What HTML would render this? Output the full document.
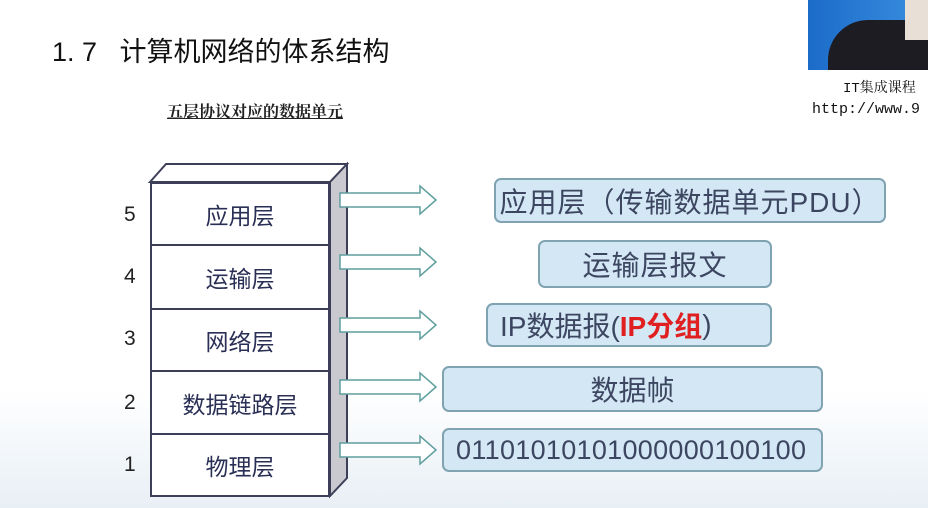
<!DOCTYPE html>
<html><head><meta charset="utf-8"><style>
body{margin:0;width:928px;height:508px;overflow:hidden;position:relative;background:linear-gradient(#fff 0,#fff 390px,#e8eff5 508px);font-family:"Liberation Sans","Noto Sans CJK SC",sans-serif;}
.a{position:absolute;white-space:nowrap}
.box{position:absolute;background:#d3e7f5;border:2px solid #7fa3b1;border-radius:7px;box-sizing:border-box;color:#3d4660;font-size:28px;display:flex;align-items:center;justify-content:center;}
.num{position:absolute;left:124px;font-size:21px;color:#222;}
.lay{position:absolute;left:150px;width:180px;box-sizing:border-box;border:2px solid #3d3f58;background:#fff;color:#2a2f55;font-size:23px;display:flex;align-items:center;justify-content:center;}
</style></head><body>
<div class="a" style="left:52px;top:30px;font-size:27px;color:#111">1. 7&nbsp;&nbsp; 计算机网络的体系结构</div>
<div class="a" style="left:167px;top:99px;font-size:16px;font-weight:bold;color:#222;text-decoration:underline;font-family:'Noto Serif CJK SC',serif">五层协议对应的数据单元</div>
<div class="a" style="left:808px;top:0;width:120px;height:70px;background:linear-gradient(90deg,#1b6bc8,#3a8fe0)"></div>
<div class="a" style="left:828px;top:20px;width:100px;height:50px;background:#1c1c22;border-radius:40px 0 0 0"></div>
<div class="a" style="left:905px;top:0;width:23px;height:40px;background:#e8dfd6"></div>
<div class="a" style="left:843px;top:77px;font-size:14px;color:#111;font-family:'Liberation Mono','Noto Serif CJK SC',monospace">IT集成课程</div>
<div class="a" style="left:812px;top:101px;font-size:15px;color:#111;font-family:'Liberation Mono',monospace">http://www.9</div>

<svg class="a" style="left:0;top:0" width="928" height="508">
<polygon points="150,182 166,164 347,164 330,182" fill="#fff" stroke="#3d3f58" stroke-width="2"/>
<polygon points="330,182 347,164 347,478 330,496" fill="#c9c9cf" stroke="#3d3f58" stroke-width="2"/>
<g fill="#fff" stroke="#5f9e9e" stroke-width="1.5">
<polygon points="340,193 420,193 420,186 436,200 420,214 420,207 340,207"/>
<polygon points="340,255 420,255 420,248 436,262 420,276 420,269 340,269"/>
<polygon points="340,318 420,318 420,311 436,325 420,339 420,332 340,332"/>
<polygon points="340,380 420,380 420,373 436,387 420,401 420,394 340,394"/>
<polygon points="340,443 420,443 420,436 436,450 420,464 420,457 340,457"/>
</g>
</svg>
<div class="lay" style="top:182px;height:64px">应用层</div>
<div class="lay" style="top:244px;height:66px">运输层</div>
<div class="lay" style="top:308px;height:64px">网络层</div>
<div class="lay" style="top:370px;height:65px">数据链路层</div>
<div class="lay" style="top:433px;height:64px">物理层</div>
<div class="num" style="top:203px">5</div>
<div class="num" style="top:265px">4</div>
<div class="num" style="top:327px">3</div>
<div class="num" style="top:391px">2</div>
<div class="num" style="top:453px">1</div>

<div class="box" style="left:494px;top:178px;width:392px;height:45px;letter-spacing:1px">应用层（传输数据单元PDU）</div>
<div class="box" style="left:538px;top:240px;width:234px;height:48px;letter-spacing:1px">运输层报文</div>
<div class="box" style="left:486px;top:303px;width:286px;height:44px;justify-content:flex-start;padding-left:12px">IP数据报(<span style="color:#e02020;font-weight:bold">IP分组</span>)</div>
<div class="box" style="left:442px;top:366px;width:381px;height:46px">数据帧</div>
<div class="box" style="left:442px;top:428px;width:381px;height:44px;justify-content:flex-start;padding-left:12px;font-size:27px;letter-spacing:0.3px">01101010101000000100100</div>
</body></html>
